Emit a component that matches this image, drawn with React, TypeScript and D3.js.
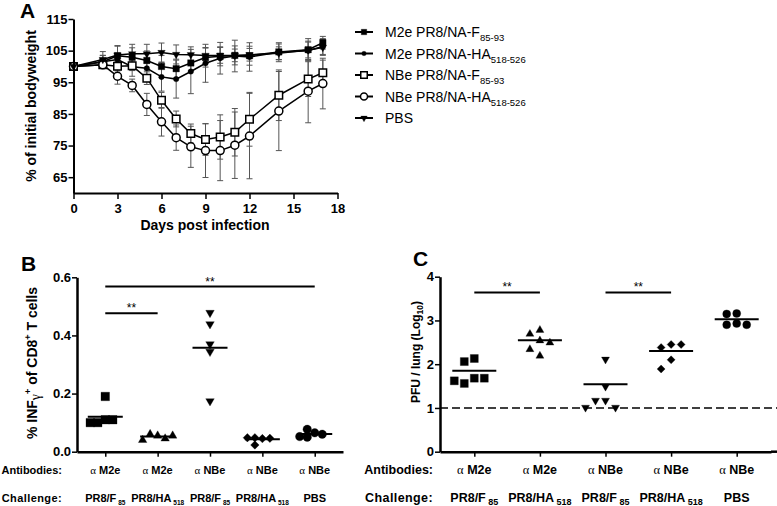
import React, { useEffect, useRef } from 'react';
import * as d3 from 'd3';

const FONT = "'Liberation Sans', Arial, Helvetica, sans-serif";
const SERIF = "'Liberation Serif', 'Times New Roman', serif";

// ---- Panel A: body weight ----
const days = [0, 2, 3, 4, 5, 6, 7, 8, 9, 10, 11, 12, 14, 16, 17];
const m2eF = [100, 101.5, 103.4, 102.9, 101.9, 100.0, 99.3, 101.1, 102.8, 103.2, 103.5, 103.4, 104.6, 105.3, 107.5];
const m2eFsd = [0, 2, 3, 3, 3, 3.5, 3, 2.5, 3, 3, 3, 3, 2.5, 3.5, 2];
const m2eHA = [100, 101.5, 102.2, 99.9, 99.4, 96.7, 96.0, 98.4, 101.0, 102.6, 103.3, 103.0, 104.5, 105.0, 106.3];
const m2eHAsd = [0, 2, 2, 3, 3, 4.5, 6, 7, 6, 5, 5, 4.5, 3, 3, 2.5];
const nbeF = [100, 100.5, 100.1, 100.2, 96.3, 89.3, 83.4, 78.8, 76.9, 77.7, 79.2, 83.3, 90.9, 96.0, 98.0];
const nbeFsd = [0, 1, 1.5, 1.5, 2, 2.5, 2.5, 3, 5, 7, 7.5, 8.5, 8, 5.5, 4];
const nbeHA = [100, 100.5, 96.9, 94.0, 88.0, 82.5, 77.5, 74.6, 73.4, 73.4, 75.1, 78.0, 85.9, 92.2, 94.6];
const nbeHAsd = [0, 1, 2.5, 2, 3.5, 4.5, 4, 6.5, 8.5, 9.5, 10.5, 13.5, 12.5, 10, 8];
const pbs = [100, 102.2, 103.6, 104.0, 104.0, 104.4, 103.8, 103.7, 103.5, 103.5, 103.5, 103.7, 104.2, 105.2, 106.0];
const pbsSd = [0, 2.5, 3, 3, 3, 3, 3, 2.5, 2.5, 2.5, 2, 2, 2, 2.5, 2.5];
const weightTicksX = [0, 3, 6, 9, 12, 15, 18];
const weightTicksY = [65, 75, 85, 95, 105, 115];
const legendMain = ['M2e PR8/NA-F', 'M2e PR8/NA-HA', 'NBe PR8/NA-F', 'NBe PR8/NA-HA', 'PBS'];
const legendSub = ['85-93', '518-526', '85-93', '518-526', ''];

// ---- Panels B and C: groups ----
const antibodies = ['M2e', 'M2e', 'NBe', 'NBe', 'NBe'];
const challengeMain = ['PR8/F', 'PR8/HA', 'PR8/F', 'PR8/HA', 'PBS'];
const challengeSub = ['85', '518', '85', '518', ''];

// B: % IFNg+ of CD8+ T cells
const ifnM2eF = [0.19, 0.11, 0.10, 0.11, 0.10];
const ifnM2eHA = [0.055, 0.06, 0.045, 0.04, 0.055];
const ifnNbeF = [0.478, 0.439, 0.37, 0.344, 0.174];
const ifnNbeHA = [0.045, 0.048, 0.046, 0.048, 0.023];
const ifnPbs = [0.065, 0.077, 0.05, 0.06, 0.052];
const ifnMeans = [0.12, 0.052, 0.358, 0.043, 0.061];
const ifnTicks = [0, 0.2, 0.4, 0.6];
const ifnSigFrom = [0, 0];
const ifnSigTo = [4, 1];
const ifnSigLevel = [0.568, 0.476];

// C: PFU / lung (log10)
const pfuM2eF = [2.13, 2.06, 1.68, 1.56, 1.68, 1.62];
const pfuM2eHA = [2.78, 2.69, 2.54, 2.49, 2.34, 2.19];
const pfuNbeF = [2.11, 1.49, 1.17, 1.17, 1.01, 1.01];
const pfuNbeHA = [2.45, 2.38, 2.45, 2.10, 1.89];
const pfuPbs = [3.16, 3.15, 2.93, 2.90, 2.90];
const pfuMeans = [1.85, 2.55, 1.54, 2.30, 3.03];
const pfuTicks = [0, 1, 2, 3, 4];
const pfuSigFrom = [0, 2];
const pfuSigTo = [1, 3];
const pfuSigLevel = [3.64, 3.64];
const pfuLimit = 1;

const groupShapes = ['square', 'triangleUp', 'triangleDown', 'diamond', 'circle'];

function symbolPath(shape: string, size: number) {
  switch (shape) {
    case 'square':
      return { d: d3.symbol(d3.symbolSquare, size * size)(), rot: 0 };
    case 'circle':
      return { d: d3.symbol(d3.symbolCircle, (Math.PI * size * size) / 4)(), rot: 0 };
    case 'triangleUp':
      return { d: d3.symbol(d3.symbolTriangle, (Math.sqrt(3) / 4) * size * size)(), rot: 0 };
    case 'triangleDown':
      return { d: d3.symbol(d3.symbolTriangle, (Math.sqrt(3) / 4) * size * size)(), rot: 180 };
    case 'diamond':
      return { d: d3.symbol(d3.symbolSquare, (size * size) / 2)(), rot: 45 };
    default:
      return { d: '', rot: 0 };
  }
}

function Marker({ shape, x, y, size, open }: any) {
  const s = symbolPath(shape, size);
  return (
    <path
      d={s.d as string}
      transform={`translate(${x},${y}) rotate(${s.rot})`}
      fill={open ? '#fff' : '#000'}
      stroke="#000"
      strokeWidth={open ? 1.5 : 0.3}
    />
  );
}

// spread overlapping points sideways, like a column scatter
function swarm(values: number[], y: (v: number) => number, cx: number, d: number) {
  const placed: { x: number; y: number }[] = [];
  const slots = [0, -1, 1, -2, 2, -3, 3, -4, 4];
  return values.map((v) => {
    const py = y(v);
    for (const k of slots) {
      const px = cx + k * d;
      if (!placed.some((p) => Math.abs(p.x - px) < d * 0.95 && Math.abs(p.y - py) < d * 0.95)) {
        placed.push({ x: px, y: py });
        return { x: px, y: py };
      }
    }
    return { x: cx, y: py };
  });
}

function Axis({ scale, orient, transform, ticks, format, tickSize = 5, padding = 2, fontSize = 13, width = 2 }: any) {
  const ref = useRef<SVGGElement>(null);
  useEffect(() => {
    const ax = orient === 'left' ? d3.axisLeft(scale) : d3.axisBottom(scale);
    ax.tickSizeOuter(0).tickSizeInner(tickSize).tickPadding(padding);
    if (ticks) ax.tickValues(ticks);
    if (format !== undefined) ax.tickFormat(format);
    const g = d3.select(ref.current);
    g.call(ax as any);
    g.select('.domain').attr('stroke-width', width).attr('stroke', '#000');
    g.selectAll('.tick line').attr('stroke-width', 1.5).attr('stroke', '#000');
    g.selectAll('text')
      .attr('font-family', FONT)
      .attr('font-weight', 'bold')
      .attr('font-size', fontSize)
      .attr('fill', '#000');
  }, []);
  return <g ref={ref} transform={transform} />;
}

function WeightPanel() {
  const x = d3.scaleLinear().domain([0, 18]).range([73.5, 337.5]);
  const y = d3.scaleLinear().domain([60, 115]).range([193, 19]);
  const series = [
    { values: m2eF, sd: m2eFsd, shape: 'square', size: 6.5, open: false },
    { values: m2eHA, sd: m2eHAsd, shape: 'circle', size: 5.5, open: false },
    { values: nbeF, sd: nbeFsd, shape: 'square', size: 7.5, open: true },
    { values: nbeHA, sd: nbeHAsd, shape: 'circle', size: 8, open: true },
    { values: pbs, sd: pbsSd, shape: 'triangleDown', size: 7.5, open: false },
  ];
  const line = d3.line<number>().x((_, i) => x(days[i])).y((v) => y(v));
  const legendY = d3.scalePoint<number>().domain(d3.range(5)).range([32, 118]);
  return (
    <g>
      {series.map((s, si) =>
        s.values.map((v, i) =>
          s.sd[i] > 0 ? (
            <g key={`e${si}-${i}`} stroke="#555" strokeWidth={1}>
              <line x1={x(days[i])} x2={x(days[i])} y1={y(v + s.sd[i])} y2={y(v - s.sd[i])} />
              <line x1={x(days[i]) - 3} x2={x(days[i]) + 3} y1={y(v + s.sd[i])} y2={y(v + s.sd[i])} />
              <line x1={x(days[i]) - 3} x2={x(days[i]) + 3} y1={y(v - s.sd[i])} y2={y(v - s.sd[i])} />
            </g>
          ) : null
        )
      )}
      {series.map((s, si) => (
        <path key={`l${si}`} d={line(s.values) as string} fill="none" stroke="#000" strokeWidth={1.5} />
      ))}
      {series.map((s, si) =>
        s.values.map((v, i) => (
          <Marker key={`m${si}-${i}`} shape={s.shape} x={x(days[i])} y={y(v)} size={s.size} open={s.open} />
        ))
      )}
      <Axis scale={y} orient="left" transform="translate(73.5,0)" ticks={weightTicksY} tickSize={5} padding={1} fontSize={13} />
      <Axis scale={x} orient="bottom" transform="translate(0,193)" ticks={weightTicksX} tickSize={6} padding={5} fontSize={13} />
      <text x={20} y={18} fontFamily={FONT} fontWeight="bold" fontSize={21}>A</text>
      <text transform="translate(36,106) rotate(-90)" textAnchor="middle" fontFamily={FONT} fontWeight="bold" fontSize={14}>
        % of initial bodyweight
      </text>
      <text x={205} y={230} textAnchor="middle" fontFamily={FONT} fontWeight="bold" fontSize={14}>
        Days post infection
      </text>
      {series.map((s, i) => (
        <g key={`lg${i}`}>
          <line x1={355} x2={373} y1={legendY(i)} y2={legendY(i)} stroke="#000" strokeWidth={2} />
          <Marker shape={s.shape} x={364} y={legendY(i) as number} size={s.size - 1} open={s.open} />
          <text x={385} y={(legendY(i) as number) + 5} fontFamily={FONT} fontSize={14}>
            {legendMain[i]}
            {legendSub[i] ? <tspan dy={4} fontSize={9.5}>{legendSub[i]}</tspan> : null}
          </text>
        </g>
      ))}
    </g>
  );
}

function ScatterPanel({ x, y, groups, means, yTicks, yFormat, sigFrom, sigTo, sigLevel, markerSize, spacing, meanWidth, labelSize, subSize, rowLabelX, axisEnd, limit }: any) {
  return (
    <g>
      {limit !== undefined ? (
        <line x1={x.range()[0]} x2={axisEnd} y1={y(limit)} y2={y(limit)} stroke="#000" strokeWidth={1.5} strokeDasharray="8,4" />
      ) : null}
      {groups.map((vals: number[], gi: number) => {
        const pts = swarm(vals, y, x(gi), spacing);
        return (
          <g key={`g${gi}`}>
            {pts.map((p, i) => (
              <Marker key={i} shape={groupShapes[gi]} x={p.x} y={p.y} size={markerSize} open={false} />
            ))}
            <line x1={x(gi) - meanWidth / 2} x2={x(gi) + meanWidth / 2} y1={y(means[gi])} y2={y(means[gi])} stroke="#000" strokeWidth={2} />
          </g>
        );
      })}
      {sigFrom.map((f: number, i: number) => (
        <g key={`s${i}`}>
          <line x1={x(f)} x2={x(sigTo[i])} y1={y(sigLevel[i])} y2={y(sigLevel[i])} stroke="#000" strokeWidth={2} />
          <text x={(x(f) + x(sigTo[i])) / 2} y={y(sigLevel[i]) - 1} textAnchor="middle" fontFamily={FONT} fontSize={12}>
            **
          </text>
        </g>
      ))}
      <Axis scale={y} orient="left" transform={`translate(${x.range()[0]},0)`} ticks={yTicks} format={yFormat} tickSize={5} padding={1} fontSize={13} width={2.5} />
      <Axis scale={x} orient="bottom" transform={`translate(0,${y.range()[0]})`} format={() => ''} tickSize={5} padding={0} width={2.5} />
      <line x1={x.range()[1]} x2={axisEnd} y1={y.range()[0]} y2={y.range()[0]} stroke="#000" strokeWidth={2.5} />
      <text x={rowLabelX} y={474} textAnchor="end" fontFamily={FONT} fontWeight="bold" fontSize={labelSize}>
        Antibodies:
      </text>
      <text x={rowLabelX} y={502} textAnchor="end" fontFamily={FONT} fontWeight="bold" fontSize={labelSize} letterSpacing={0.4}>
        Challenge:
      </text>
      {antibodies.map((a, i) => (
        <text key={`a${i}`} x={x(i)} y={474} textAnchor="middle" fontFamily={FONT} fontWeight="bold" fontSize={labelSize}>
          <tspan fontFamily={SERIF} fontWeight="normal">α</tspan>
          <tspan> {a}</tspan>
        </text>
      ))}
      {challengeMain.map((c, i) => (
        <text key={`c${i}`} x={x(i)} y={502} textAnchor="middle" fontFamily={FONT} fontWeight="bold" fontSize={labelSize}>
          {c}
          {challengeSub[i] ? <tspan dy={3} fontSize={subSize}> {challengeSub[i]}</tspan> : null}
        </text>
      ))}
    </g>
  );
}

export default function App() {
  const xB = d3.scalePoint<number>().domain(d3.range(5)).range([77, 343]).padding(0.54);
  const yB = d3.scaleLinear().domain([0, 0.6]).range([451.7, 277.3]);
  const xC = d3.scalePoint<number>().domain(d3.range(5)).range([440, 771]).padding(0.523);
  const yC = d3.scaleLinear().domain([0, 4]).range([451.7, 276.7]);
  return (
    <svg width={777} height={506} style={{ position: 'absolute', left: 0, top: 0, background: '#fff' }}>
      <rect width={777} height={506} fill="#fff" />
      <WeightPanel />
      <ScatterPanel
        x={xB}
        y={yB}
        groups={[ifnM2eF, ifnM2eHA, ifnNbeF, ifnNbeHA, ifnPbs]}
        means={ifnMeans}
        yTicks={ifnTicks}
        yFormat={d3.format('.1f')}
        sigFrom={ifnSigFrom}
        sigTo={ifnSigTo}
        sigLevel={ifnSigLevel}
        markerSize={8.5}
        spacing={7.5}
        meanWidth={35}
        labelSize={11}
        subSize={6.5}
        rowLabelX={62}
        axisEnd={343}
      />
      <ScatterPanel
        x={xC}
        y={yC}
        groups={[pfuM2eF, pfuM2eHA, pfuNbeF, pfuNbeHA, pfuPbs]}
        means={pfuMeans}
        yTicks={pfuTicks}
        yFormat={d3.format('d')}
        sigFrom={pfuSigFrom}
        sigTo={pfuSigTo}
        sigLevel={pfuSigLevel}
        markerSize={8}
        spacing={10}
        meanWidth={44}
        labelSize={12.5}
        subSize={9}
        rowLabelX={433}
        axisEnd={777}
        limit={pfuLimit}
      />
      <text x={21} y={271} fontFamily={FONT} fontWeight="bold" fontSize={21}>B</text>
      <text transform="translate(37,363) rotate(-90)" textAnchor="middle" fontFamily={FONT} fontWeight="bold" fontSize={14}>
        % INF
        <tspan fontFamily={SERIF} fontWeight="normal" dy={3}>γ</tspan>
        <tspan fontSize={9} dy={-9}>+</tspan>
        <tspan dy={6}> of CD8</tspan>
        <tspan fontSize={9} dy={-6}>+</tspan>
        <tspan dy={6}> T cells</tspan>
      </text>
      <text x={413} y={266} fontFamily={FONT} fontWeight="bold" fontSize={21}>C</text>
      <text transform="translate(420,352) rotate(-90)" textAnchor="middle" fontFamily={FONT} fontWeight="bold" fontSize={12}>
        PFU / lung (Log
        <tspan fontSize={8.5} dy={3}>10</tspan>
        <tspan dy={-3}>)</tspan>
      </text>
    </svg>
  );
}
